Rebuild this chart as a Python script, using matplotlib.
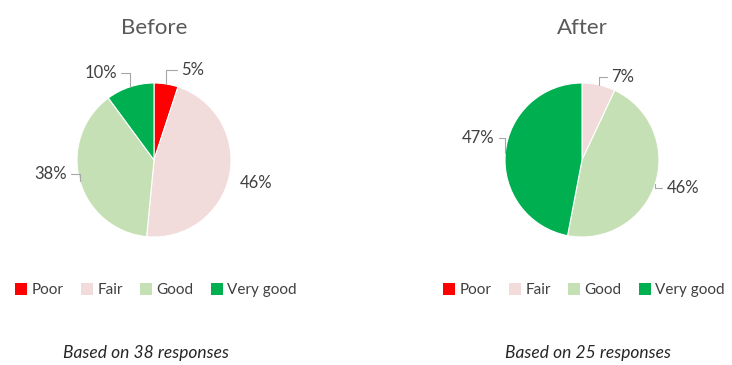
import matplotlib.pyplot as plt
from matplotlib.patches import Patch
import numpy as np

plt.rcParams['font.family'] = ['Lato', 'DejaVu Sans']

categorias = ['Poor', 'Fair', 'Good', 'Very good']
colores = ['#FF0000', '#F2DCDB', '#C5E0B4', '#00B050']

antes = [5, 46, 38, 10]
despues = [0, 7, 46, 47]
etiquetas_antes = ['5%', '46%', '38%', '10%']
etiquetas_despues = ['', '7%', '46%', '47%']
titulos = ['Before', 'After']
notas = ['Based on 38 responses', 'Based on 25 responses']

# posiciones de las etiquetas (angulo en grados, distancia en radios), y si llevan linea guia
pos_antes = [(66.6, 1.27, True), (-12.7, 1.36, False), (-172.5, 1.35, True), (121.5, 1.32, True)]
pos_despues = [(0, 1.2, False), (63.7, 1.2, True), (-15.5, 1.36, True), (168, 1.38, True)]

W, H = 732, 365
fig = plt.figure(figsize=(W / 100, H / 100), dpi=100)
ax = fig.add_axes([0, 0, 1, 1])

centros = [(154, H - 160), (582, H - 160)]
radio = 77

datos = [(antes, etiquetas_antes, pos_antes), (despues, etiquetas_despues, pos_despues)]

for i, (valores, etiquetas, posiciones) in enumerate(datos):
    cx, cy = centros[i]
    wedges, _ = ax.pie(valores, colors=colores, startangle=90, counterclock=False,
                       center=(cx, cy), radius=radio,
                       wedgeprops=dict(edgecolor='white', linewidth=0.8))

    for w, txt, (ang, dist, guia) in zip(wedges, etiquetas, posiciones):
        if txt == '':
            continue
        medio = np.deg2rad((w.theta1 + w.theta2) / 2)
        borde = (cx + radio * np.cos(medio), cy + radio * np.sin(medio))
        a = np.deg2rad(ang)
        tx, ty = cx + dist * radio * np.cos(a), cy + dist * radio * np.sin(a)
        lado = 0 if tx > cx else 1
        if guia:
            ax.annotate(txt, xy=borde, xytext=(tx, ty), ha='center', va='center',
                        fontsize=12, color='#404040',
                        arrowprops=dict(arrowstyle='-', color='#A6A6A6', lw=0.8,
                                        connectionstyle='angle,angleA=0,angleB=90,rad=0',
                                        relpos=(lado, 0.5), shrinkA=1, shrinkB=0))
        else:
            ax.text(tx, ty, txt, ha='center', va='center', fontsize=12, color='#404040')

    ax.text(cx, H - 28, titulos[i], ha='center', va='center', fontsize=16, color='#595959')
    ax.text(cx - 8 if i == 0 else cx + 6, H - 353, notas[i], ha='center', va='center',
            fontsize=12.5, style='italic', color='#262626')

    handles = [Patch(facecolor=c, edgecolor='none') for c in colores]
    fig.legend(handles, categorias, loc='center', ncol=4, frameon=False,
               bbox_to_anchor=((cx + 2) / W, 1 - 290 / H), fontsize=11,
               handlelength=0.8, handleheight=0.8, handletextpad=0.3,
               columnspacing=1.1, labelcolor='#404040')

ax.set_xlim(0, W)
ax.set_ylim(0, H)
ax.set_aspect('equal')
ax.axis('off')

plt.savefig('out.png', dpi=100)
